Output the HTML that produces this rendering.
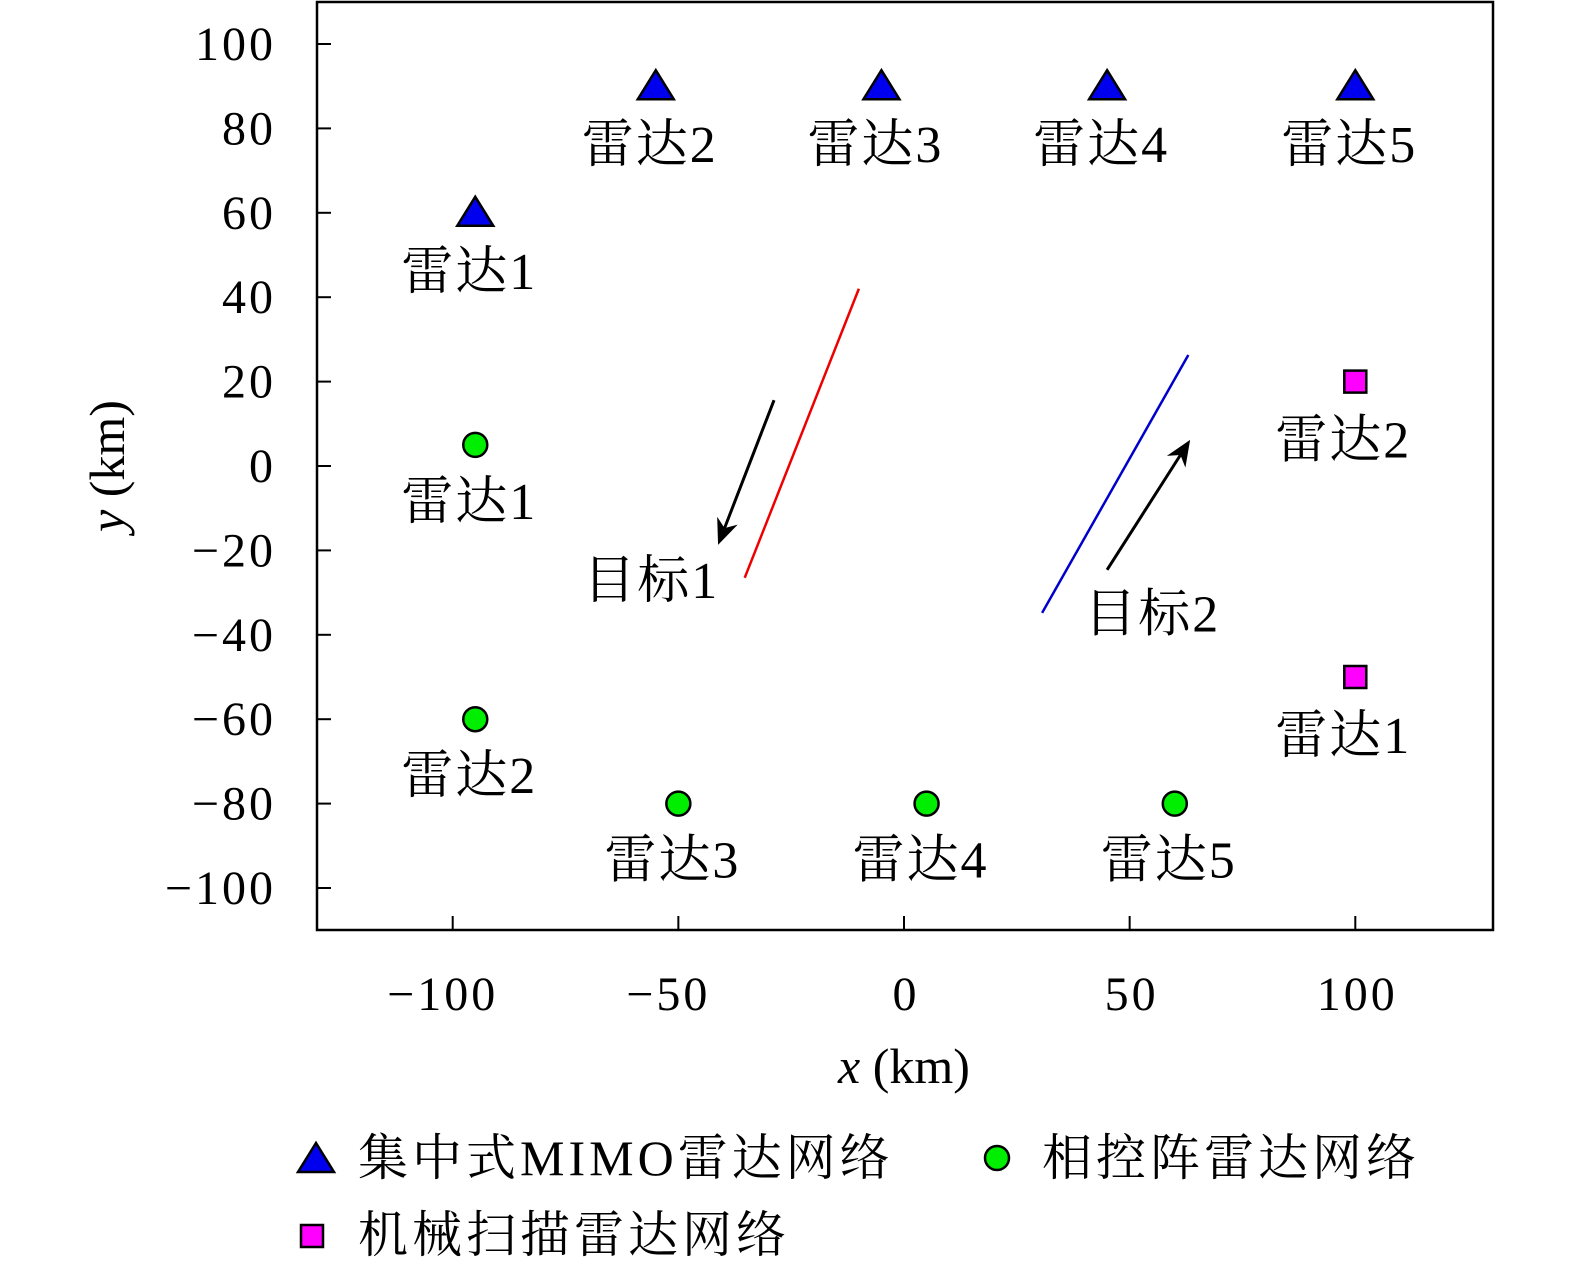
<!DOCTYPE html>
<html><head><meta charset="utf-8"><style>
body{margin:0;background:#fff}
svg text{font-family:"Liberation Serif","Noto Serif CJK SC",serif;fill:#000}
</style></head><body>
<svg width="1575" height="1263" viewBox="0 0 1575 1263" xmlns="http://www.w3.org/2000/svg">
<g id="plot"></g>
<script>
const xTicks=[-100,-50,0,50,100];
const yTicks=[100,80,60,40,20,0,-20,-40,-60,-80,-100];
const mimoX=[-95,-55,-5,45,100], mimoY=[60,90,90,90,90], mimoLbl=["雷达1","雷达2","雷达3","雷达4","雷达5"];
const phX=[-95,-95,-50,5,60], phY=[5,-60,-80,-80,-80], phLbl=["雷达1","雷达2","雷达3","雷达4","雷达5"];
const mechX=[100,100], mechY=[20,-50], mechLbl=["雷达2","雷达1"];
const track1X=[-35.3,-10], track1Y=[-26.5,42];
const track2X=[30.6,63], track2Y=[-34.8,26.3];
const arrow1X=[-28.8,-41.2], arrow1Y=[15.6,-18.7];
const arrow2X=[45,63.4], arrow2Y=[-24.6,6.2];
const targetLbl=["目标1","目标2"], targetLX=[-56,55], targetLY=[-27,-35];

const X=v=>904+v*4.513, Y=v=>466-v*4.22;
const g=document.getElementById('plot'), NS="http://www.w3.org/2000/svg";
function mk(t,a,txt,parent){const e=document.createElementNS(NS,t);for(const k in a)e.setAttribute(k,a[k]);if(txt!==undefined)e.textContent=txt;(parent||g).appendChild(e);return e;}
let e;
e=mk('rect',{x:317,y:2,width:1176,height:928,fill:'none',stroke:'#000','stroke-width':2.5});

xTicks.forEach(v=>{e=mk('line',{x1:X(v),x2:X(v),y1:930,y2:916,stroke:'#000','stroke-width':2});

e=mk('text',{x:X(v)+(v<0?-10:2),y:1010,'font-size':48,'letter-spacing':3,'text-anchor':'middle'},v<0?'−'+(-v):String(v));
});
yTicks.forEach(v=>{e=mk('line',{x1:317,x2:331,y1:Y(v),y2:Y(v),stroke:'#000','stroke-width':2});

e=mk('text',{x:276,y:Y(v)+16,'font-size':48,'letter-spacing':3,'text-anchor':'end'},v<0?'−'+(-v):String(v));
});
function line(xs,ys,c,w,n){e=mk('line',{x1:X(xs[0]),y1:Y(ys[0]),x2:X(xs[1]),y2:Y(ys[1]),stroke:c,'stroke-width':w});
}
line(track1X,track1Y,'#e00',2.5,'target1-track');
line(track2X,track2Y,'#00c',2.5,'target2-track');
function arrow(xs,ys,n){const x1=X(xs[0]),y1=Y(ys[0]),x2=X(xs[1]),y2=Y(ys[1]);
const a=Math.atan2(y2-y1,x2-x1),L=26,W=11;
const bx=x2-L*Math.cos(a),by=y2-L*Math.sin(a);
e=mk('line',{x1,y1,x2:bx+8*Math.cos(a),y2:by+8*Math.sin(a),stroke:'#000','stroke-width':3});

const px=-Math.sin(a),py=Math.cos(a);
e=mk('path',{d:`M${x2},${y2}L${bx+W*px},${by+W*py}L${bx+8*Math.cos(a)},${by+8*Math.sin(a)}L${bx-W*px},${by-W*py}Z`,fill:'#000'});
}
arrow(arrow1X,arrow1Y,'target1-arrow');arrow(arrow2X,arrow2Y,'target2-arrow');
function lbl(x,y,t,n){e=mk('text',{x:x,y:y,'font-size':52,'letter-spacing':2,'text-anchor':'middle'},t);
}
function tri(cx,cy,n){e=mk('path',{d:`M${cx},${cy-16}L${cx+18},${cy+13}L${cx-18},${cy+13}Z`,fill:'#0000ee',stroke:'#000','stroke-width':2.5});
}
function circ(cx,cy,n){e=mk('circle',{cx,cy,r:12,fill:'#00ee00',stroke:'#000','stroke-width':2.5});
}
function sq(cx,cy,n){e=mk('rect',{x:cx-11,y:cy-11,width:22,height:22,fill:'#ff00ff',stroke:'#000','stroke-width':2.5});
}
mimoX.forEach((v,i)=>{tri(X(v),Y(mimoY[i]),'mimo-radar-marker');lbl(X(v)-6,Y(mimoY[i])+76,mimoLbl[i],'mimo-radar-label');});
phX.forEach((v,i)=>{circ(X(v),Y(phY[i]),'phased-radar-marker');lbl(X(v)-6,Y(phY[i])+74,phLbl[i],'phased-radar-label');});
mechX.forEach((v,i)=>{sq(X(v),Y(mechY[i]),'mech-radar-marker');lbl(X(v)-12,Y(mechY[i])+76,mechLbl[i],'mech-radar-label');});
targetLbl.forEach((t,i)=>lbl(X(targetLX[i]),Y(targetLY[i])+18,t,'target-label'));
e=mk('text',{x:904,y:1083,'font-size':50,'text-anchor':'middle'});
mk('tspan',{'font-style':'italic'},'x',e);mk('tspan',{},' (km)',e);

e=mk('text',{x:0,y:0,'font-size':50,'text-anchor':'middle',transform:'translate(124,466) rotate(-90)'});
mk('tspan',{'font-style':'italic'},'y',e);mk('tspan',{},' (km)',e);

tri(316,1159,'legend-mimo-marker');
e=mk('text',{x:358,y:1175,'font-size':50,'letter-spacing':4},'集中式MIMO雷达网络');
circ(997,1158,'legend-phased-marker');
e=mk('text',{x:1042,y:1175,'font-size':50,'letter-spacing':4},'相控阵雷达网络');
sq(312,1236,'legend-mech-marker');
e=mk('text',{x:358,y:1252,'font-size':50,'letter-spacing':4},'机械扫描雷达网络');
</script>
</svg>
</body></html>
